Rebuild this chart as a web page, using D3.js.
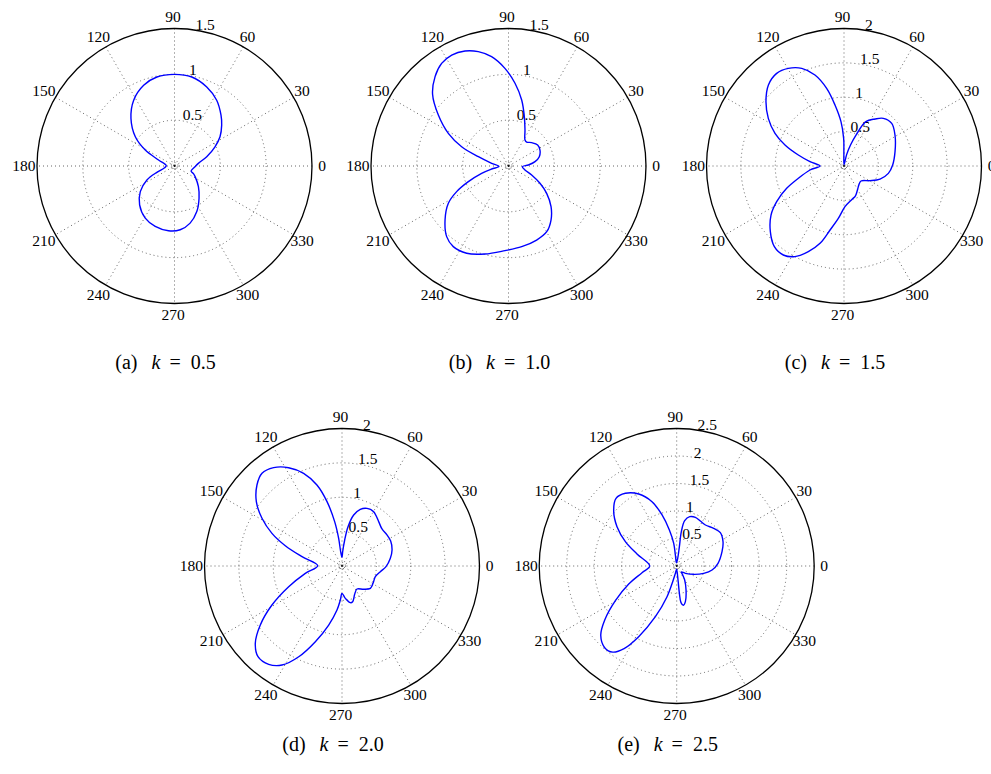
<!DOCTYPE html>
<html>
<head>
<meta charset="utf-8">
<script src="https://cdn.jsdelivr.net/npm/d3@7"></script>
<style>
  body { margin: 0; background: #fff; }
  svg { display: block; }
  text { font-family: "Liberation Serif", "Times New Roman", serif; fill: #000; }
</style>
</head>
<body>
<svg id="chart" width="991" height="774"></svg>
<script>
// Radiation patterns, polar angle in degrees (counter-clockwise from 0) and radius.

// (a) k = 0.5
const anglesA = [6.3, 16.1, 25.4, 32.7, 40.9, 47.5, 57.3, 67.8, 79.0, 90, 101.2, 110.9, 121.8, 132.5, 143.3, 151.4, 159.4, 178,
  190, 199.7, 206.8, 216.8, 228.1, 240.7, 252.3, 264.7, 275.1, 285.3, 296.1, 307.3, 319.3, 332.7, 338, 343.3, 357.2];
const radiiA = [0.262, 0.366, 0.489, 0.590, 0.681, 0.751, 0.852, 0.931, 0.989, 1.000, 0.990, 0.943, 0.845, 0.703, 0.533, 0.363, 0.186, 0.09,
  0.11, 0.204, 0.337, 0.466, 0.570, 0.652, 0.692, 0.710, 0.698, 0.646, 0.553, 0.442, 0.344, 0.253, 0.223, 0.189, 0.221];

// (b) k = 1.0
const anglesB = [2.9, 9.3, 16.8, 26.9, 35.8, 45.2, 52.9, 57.6, 65.4, 72.2, 78.7, 85.5, 92.1, 98.8, 104.8, 110.7, 117.1, 123.1, 129.4, 136.6,
  144.0, 151.5, 157.6, 162.8, 171.0, 183, 190.1, 195.3, 201.3, 206.3, 211.8, 220.4, 228.8, 235.6, 244.4, 255.0, 267.6, 279.3, 290.8,
  300.2, 308.2, 316.3, 324.4, 331.2, 338.8, 346.4, 357.2];
const radiiB = [0.217, 0.293, 0.351, 0.385, 0.392, 0.359, 0.328, 0.336, 0.432, 0.565, 0.734, 0.905, 1.066, 1.207, 1.290, 1.341, 1.360, 1.336, 1.262, 1.140,
  0.946, 0.747, 0.553, 0.344, 0.186, 0.104, 0.187, 0.304, 0.470, 0.631, 0.772, 0.909, 1.024, 1.066, 1.056, 0.994, 0.924, 0.892, 0.864,
  0.829, 0.750, 0.642, 0.512, 0.392, 0.271, 0.185, 0.151];

// (c) k = 1.5
const anglesC = [1.2, 15.7, 31.3, 41.8, 50.5, 56.6, 63.8, 68.5, 72.8, 77, 88, 90.5, 90.7, 93.9, 98.4, 102.6, 107.7, 113.4, 119.7, 126.0,
  133.0, 140.5, 147.8, 154.7, 160.4, 166.5, 172.7, 180, 186.7, 195.1, 201.3, 207.9, 213.9, 221.7, 229.2, 235.7, 241.6, 247.4, 252.8,
  257.7, 263.8, 271.4, 283.3, 291, 300, 309.3, 318.6, 330.6, 340.1, 350.6];
const radiiC = [0.708, 0.771, 0.868, 0.931, 0.899, 0.819, 0.720, 0.500, 0.320, 0.170, 0.02, 0.20, 0.40, 0.646, 0.897, 1.157, 1.389, 1.548, 1.635, 1.666,
  1.612, 1.471, 1.301, 1.110, 0.911, 0.683, 0.499, 0.349, 0.498, 0.688, 0.895, 1.108, 1.279, 1.435, 1.550, 1.567, 1.499, 1.350, 1.178,
  0.953, 0.766, 0.592, 0.500, 0.465, 0.395, 0.345, 0.330, 0.434, 0.557, 0.654];

// (d) k = 2.0
const anglesD = [9.0, 17.7, 27.2, 34.6, 42.8, 50.4, 59.8, 66.6, 72.1, 77.1, 81.3, 84.1, 87.3, 90, 95.3, 96.9, 99.4, 103.1, 107.2, 112.5,
  118.5, 124.8, 130.8, 136.4, 143.1, 149.2, 155.0, 160.3, 166.9, 179.2, 191.3, 201.2, 209.1, 215.8, 221.7, 227.2, 233.3, 238.8, 244.5,
  250.6, 257.3, 263.5, 267.2, 270, 275.9, 282.8, 286.6, 294.1, 303.1, 312.9, 321.8, 330.8, 342.3, 351.6, 359.1];
const radiiD = [0.712, 0.764, 0.796, 0.795, 0.793, 0.837, 0.915, 0.914, 0.866, 0.761, 0.579, 0.380, 0.209, 0.126, 0.209, 0.405, 0.654, 0.961, 1.233, 1.459,
  1.627, 1.742, 1.781, 1.708, 1.558, 1.355, 1.124, 0.876, 0.597, 0.354, 0.544, 0.832, 1.166, 1.465, 1.689, 1.798, 1.784, 1.684, 1.462,
  1.167, 0.880, 0.644, 0.495, 0.398, 0.473, 0.547, 0.542, 0.451, 0.399, 0.463, 0.525, 0.517, 0.509, 0.564, 0.640];

// (e) k = 2.5
const anglesE = [3.7, 17.5, 27.7, 37.4, 45.5, 55.0, 62.3, 69.0, 75.2, 80.0, 82.3, 82.1, 82.6, 95, 96.9, 97.5, 101.5, 106.0, 111.0, 117.8,
  125.2, 131.9, 139.2, 146.6, 154.6, 163.2, 180, 190.9, 200.6, 209.5, 216.9, 222.4, 228.6, 233.4, 237.5, 241.7, 247.2, 252.5, 255.7,
  259.7, 268, 275.4, 275.6, 276.7, 279.6, 283.7, 291.3, 299.7, 303.7, 307.9, 319.8, 333.9, 344.8, 353.5];
const radiiE = [0.753, 0.864, 0.951, 0.999, 0.960, 0.910, 0.924, 0.948, 0.928, 0.837, 0.630, 0.355, 0.141, 0.06, 0.202, 0.416, 0.668, 0.965, 1.253, 1.480,
  1.618, 1.652, 1.513, 1.300, 1.033, 0.754, 0.491, 0.642, 0.932, 1.281, 1.636, 1.870, 1.980, 1.950, 1.780, 1.459, 1.000, 0.585, 0.294,
  0.136, 0.06, 0.256, 0.499, 0.671, 0.725, 0.667, 0.468, 0.293, 0.197, 0.138, 0.206, 0.344, 0.509, 0.647];

// Axis labelling
const spokeAngles = [0, 30, 60, 90, 120, 150, 180, 210, 240, 270, 300, 330];
const ticks15 = [0.5, 1, 1.5];
const ticks20 = [0.5, 1, 1.5, 2];
const ticks25 = [0.5, 1, 1.5, 2, 2.5];
const panelLetters = ["a", "b", "c", "d", "e"];
const kValues = ["0.5", "1.0", "1.5", "2.0", "2.5"];

// Layout of the five polar axes
const R = 137.5;
const layout = [
  { cx: 174.5, cy: 166, capY: 369 },
  { cx: 508.5, cy: 166, capY: 369 },
  { cx: 844,   cy: 166, capY: 369 },
  { cx: 342,   cy: 566, capY: 751 },
  { cx: 676.7, cy: 566, capY: 751 }
];
const series = [
  { angles: anglesA, radii: radiiA, ticks: ticks15 },
  { angles: anglesB, radii: radiiB, ticks: ticks15 },
  { angles: anglesC, radii: radiiC, ticks: ticks20 },
  { angles: anglesD, radii: radiiD, ticks: ticks20 },
  { angles: anglesE, radii: radiiE, ticks: ticks25 }
];

const svg = d3.select("#chart");
svg.append("rect").attr("width", 991).attr("height", 774).attr("fill", "#fff");

// polar degrees -> d3 radial angle (0 at top, clockwise)
const angle = d3.scaleLinear().domain([0, 360]).range([Math.PI / 2, Math.PI / 2 - 2 * Math.PI]);
const pt = (deg, rpx) => [rpx * Math.sin(angle(deg)), -rpx * Math.cos(angle(deg))];

const gridStyle = sel => sel.attr("fill", "none").attr("stroke", "#555")
  .attr("stroke-width", 0.9).attr("stroke-dasharray", "1 3");

series.forEach((s, i) => {
  const L = layout[i];
  const rmax = s.ticks[s.ticks.length - 1];
  const rinc = s.ticks[1] - s.ticks[0];
  const r = d3.scaleLinear().domain([0, rmax]).range([0, R]);
  const g = svg.append("g").attr("transform", `translate(${L.cx},${L.cy})`);

  // dotted rings
  g.selectAll("circle.ring").data(s.ticks.slice(0, -1)).join("circle")
    .attr("class", "ring").attr("r", d => r(d)).call(gridStyle);
  g.append("circle").attr("r", 3.5).call(gridStyle);

  // dotted spokes
  g.selectAll("line.spoke").data(spokeAngles.slice(0, 6)).join("line")
    .attr("class", "spoke")
    .attr("x1", d => pt(d, R)[0]).attr("y1", d => pt(d, R)[1])
    .attr("x2", d => pt(d + 180, R)[0]).attr("y2", d => pt(d + 180, R)[1])
    .call(gridStyle);

  // outer frame
  g.append("circle").attr("r", r(rmax)).attr("fill", "none")
    .attr("stroke", "#000").attr("stroke-width", 1.3);
  g.append("circle").attr("r", 0.9).attr("fill", "#000");

  // angle labels
  g.selectAll("text.ang").data(spokeAngles).join("text")
    .attr("class", "ang")
    .attr("x", d => pt(d, R * 1.084)[0] - 1.5)
    .attr("y", d => pt(d, R * 1.084)[1] + 5)
    .attr("text-anchor", "middle").attr("font-size", 15.5)
    .text(d => d);

  // radius labels along the 82 degree ray
  g.selectAll("text.rad").data(s.ticks).join("text")
    .attr("class", "rad")
    .attr("x", d => pt(82, r(d + rinc / 20))[0] + 1.5)
    .attr("y", d => pt(82, r(d + rinc / 20))[1] + 2)
    .attr("text-anchor", "start").attr("font-size", 15.5)
    .text(d => d);

  // pattern curve
  const line = d3.lineRadial()
    .angle(d => angle(d[0]))
    .radius(d => r(d[1]))
    .curve(d3.curveCatmullRomClosed.alpha(0.5));
  g.append("path").datum(d3.zip(s.angles, s.radii))
    .attr("d", line).attr("fill", "none")
    .attr("stroke", "#0000ff").attr("stroke-width", 1.4)
    .attr("stroke-linejoin", "round");

  // caption: "(x) k = value"
  const cap = svg.append("text")
    .attr("x", L.cx - 9).attr("y", L.capY)
    .attr("text-anchor", "middle").attr("font-size", 20);
  cap.append("tspan").text(`(${panelLetters[i]})`);
  cap.append("tspan").attr("dx", 14).attr("font-style", "italic").text("k");
  cap.append("tspan").attr("dx", 9).text("=");
  cap.append("tspan").attr("dx", 10).text(kValues[i]);
});
</script>
</body>
</html>
